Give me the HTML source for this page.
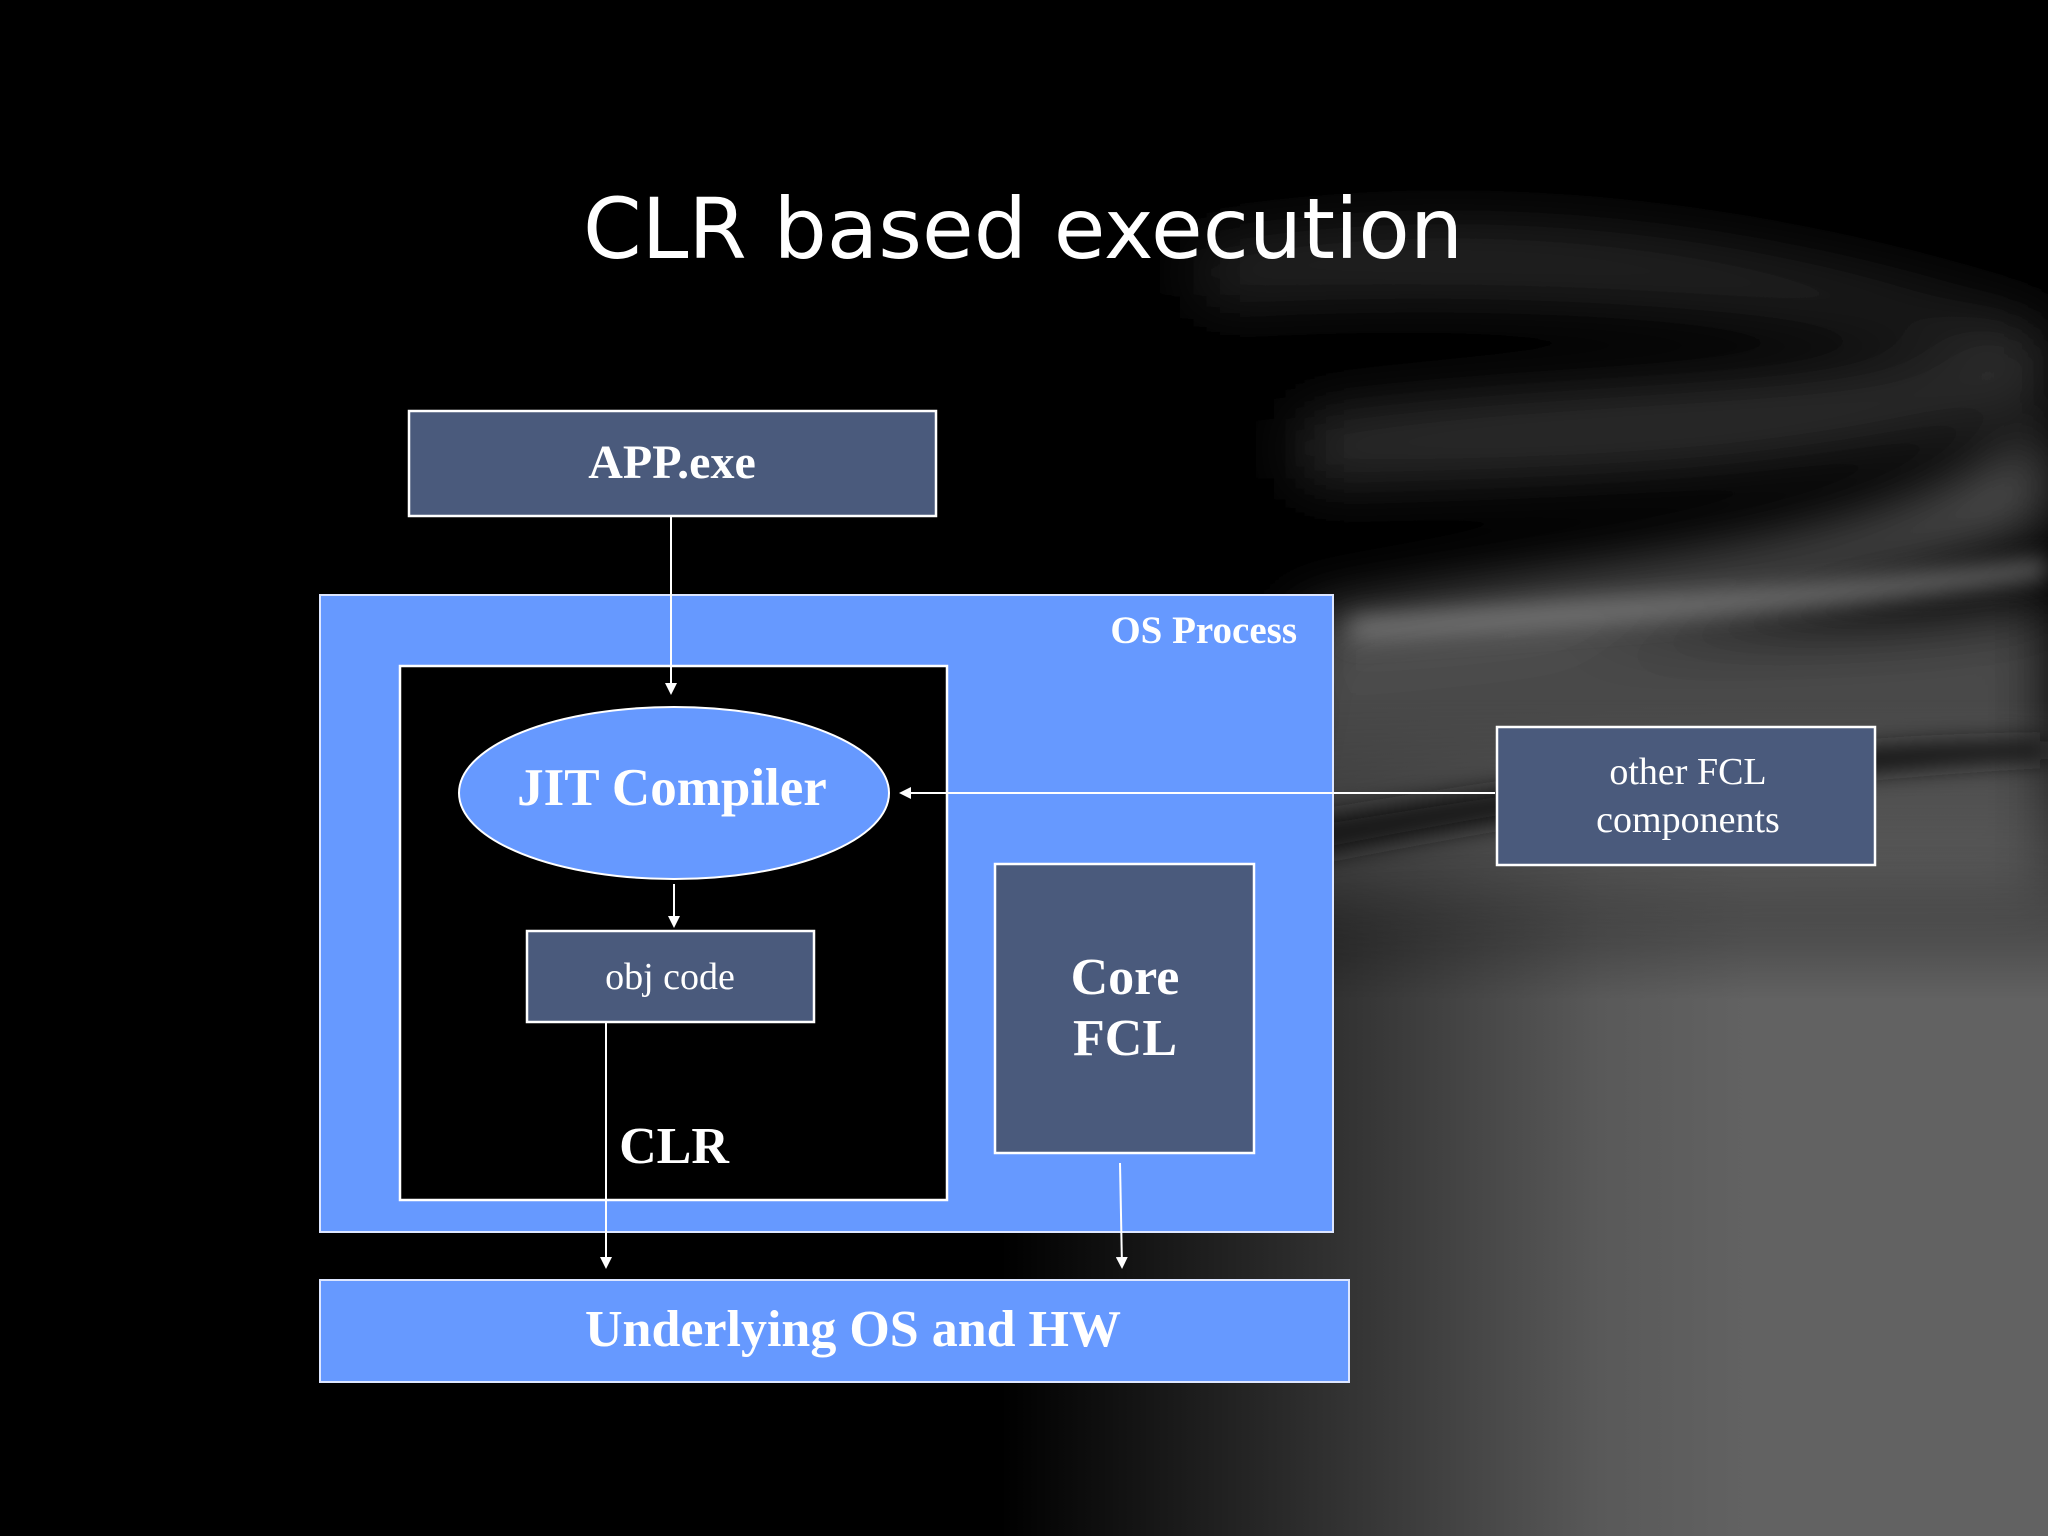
<!DOCTYPE html>
<html><head><meta charset="utf-8"><style>
html,body{margin:0;padding:0;background:#000;}
svg{display:block;}
</style></head><body>
<svg width="2048" height="1536" viewBox="0 0 2048 1536" xmlns="http://www.w3.org/2000/svg">
<defs>
<filter id="blur" filterUnits="userSpaceOnUse" x="0" y="0" width="2048" height="1536"><feGaussianBlur stdDeviation="30"/></filter>
<filter id="blur2" filterUnits="userSpaceOnUse" x="0" y="0" width="2048" height="1536"><feGaussianBlur stdDeviation="12"/></filter>
<linearGradient id="hG" gradientUnits="userSpaceOnUse" x1="1000" y1="0" x2="1750" y2="0">
<stop offset="0" stop-color="#000"/><stop offset="0.4" stop-color="#2c2c2c"/><stop offset="0.8" stop-color="#595959"/><stop offset="1" stop-color="#626262"/>
</linearGradient>
<linearGradient id="vG" gradientUnits="userSpaceOnUse" x1="0" y1="700" x2="0" y2="1000">
<stop offset="0" stop-color="#000"/><stop offset="1" stop-color="#fff"/>
</linearGradient>
<mask id="vm"><rect width="2048" height="1536" fill="url(#vG)"/></mask>
<marker id="ah" markerWidth="12" markerHeight="12" refX="10" refY="6" orient="auto" markerUnits="userSpaceOnUse">
<path d="M0,0 L12,6 L0,12 z" fill="#fff"/>
</marker>
</defs>
<rect width="2048" height="1536" fill="#000"/>
<g filter="url(#blur)">
<path d="M1300,650 C1600,620 1900,640 2048,600 L2048,900 C1800,900 1500,900 1250,920 z" fill="#484848"/>
<path d="M1300,620 C1600,560 1900,560 2048,420 L2048,520 C1800,600 1600,640 1300,660 z" fill="#555"/>
<path d="M1300,420 C1600,380 1850,400 2048,330 L2048,400 C1800,470 1600,470 1300,480 z" fill="#333"/>
<path d="M1200,250 C1500,200 1800,250 2048,330 L2048,360 C1800,300 1500,280 1200,300 z" fill="#2a2a2a"/>
</g>
<rect x="900" y="600" width="1148" height="936" fill="url(#hG)" mask="url(#vm)"/>
<g filter="url(#blur2)">
<path d="M1300,820 C1600,770 1850,740 2048,740 L2048,760 C1850,770 1600,800 1300,860 z" fill="#151515"/>
<path d="M1350,620 C1650,600 1900,580 2048,560 L2048,575 C1900,600 1650,620 1350,640 z" fill="#7a7a7a"/>
</g>

<text x="1023" y="258" text-anchor="middle" font-family="'DejaVu Sans','Liberation Sans',sans-serif" font-size="84" fill="#fff">CLR based execution</text>

<rect x="409" y="411" width="527" height="105" fill="#4a5a7c" stroke="#fff" stroke-width="2.5"/>
<text x="672" y="478" text-anchor="middle" font-family="'Liberation Serif',serif" font-weight="bold" font-size="48" fill="#fff">APP.exe</text>

<rect x="320" y="595" width="1013" height="637" fill="#6699ff" stroke="#dde6ff" stroke-width="2"/>
<text x="1297" y="643" text-anchor="end" font-family="'Liberation Serif',serif" font-weight="bold" font-size="39" fill="#fff">OS Process</text>

<rect x="400" y="666" width="547" height="534" fill="#000" stroke="#fff" stroke-width="2.5"/>
<text x="674" y="1163" text-anchor="middle" font-family="'Liberation Serif',serif" font-weight="bold" font-size="52" fill="#fff">CLR</text>

<ellipse cx="674" cy="793" rx="215" ry="86" fill="#6699ff" stroke="#fff" stroke-width="2"/>
<text x="672" y="805" text-anchor="middle" font-family="'Liberation Serif',serif" font-weight="bold" font-size="53" fill="#fff">JIT Compiler</text>

<rect x="527" y="931" width="287" height="91" fill="#4a5a7c" stroke="#fff" stroke-width="2.5"/>
<text x="670" y="989" text-anchor="middle" font-family="'Liberation Serif',serif" font-size="38" fill="#fff">obj code</text>

<rect x="995" y="864" width="259" height="289" fill="#4a5a7c" stroke="#fff" stroke-width="2.5"/>
<text x="1125" y="994" text-anchor="middle" font-family="'Liberation Serif',serif" font-weight="bold" font-size="52" fill="#fff">Core</text>
<text x="1125" y="1055" text-anchor="middle" font-family="'Liberation Serif',serif" font-weight="bold" font-size="52" fill="#fff">FCL</text>

<rect x="1497" y="727" width="378" height="138" fill="#4a5a7c" stroke="#fff" stroke-width="2.5"/>
<text x="1688" y="784" text-anchor="middle" font-family="'Liberation Serif',serif" font-size="38" fill="#fff">other FCL</text>
<text x="1688" y="832" text-anchor="middle" font-family="'Liberation Serif',serif" font-size="38" fill="#fff">components</text>

<rect x="320" y="1280" width="1029" height="102" fill="#6699ff" stroke="#dde6ff" stroke-width="2"/>
<text x="853" y="1346" text-anchor="middle" font-family="'Liberation Serif',serif" font-weight="bold" font-size="52" fill="#fff">Underlying OS and HW</text>

<g stroke="#fff" stroke-width="2" fill="none">
<line x1="671" y1="517" x2="671" y2="693" marker-end="url(#ah)"/>
<line x1="674" y1="884" x2="674" y2="926" marker-end="url(#ah)"/>
<line x1="1495" y1="793" x2="901" y2="793" marker-end="url(#ah)"/>
<line x1="606" y1="1023" x2="606" y2="1267" marker-end="url(#ah)"/>
<line x1="1120" y1="1163" x2="1122" y2="1267" marker-end="url(#ah)"/>
</g>
</svg>
</body></html>
